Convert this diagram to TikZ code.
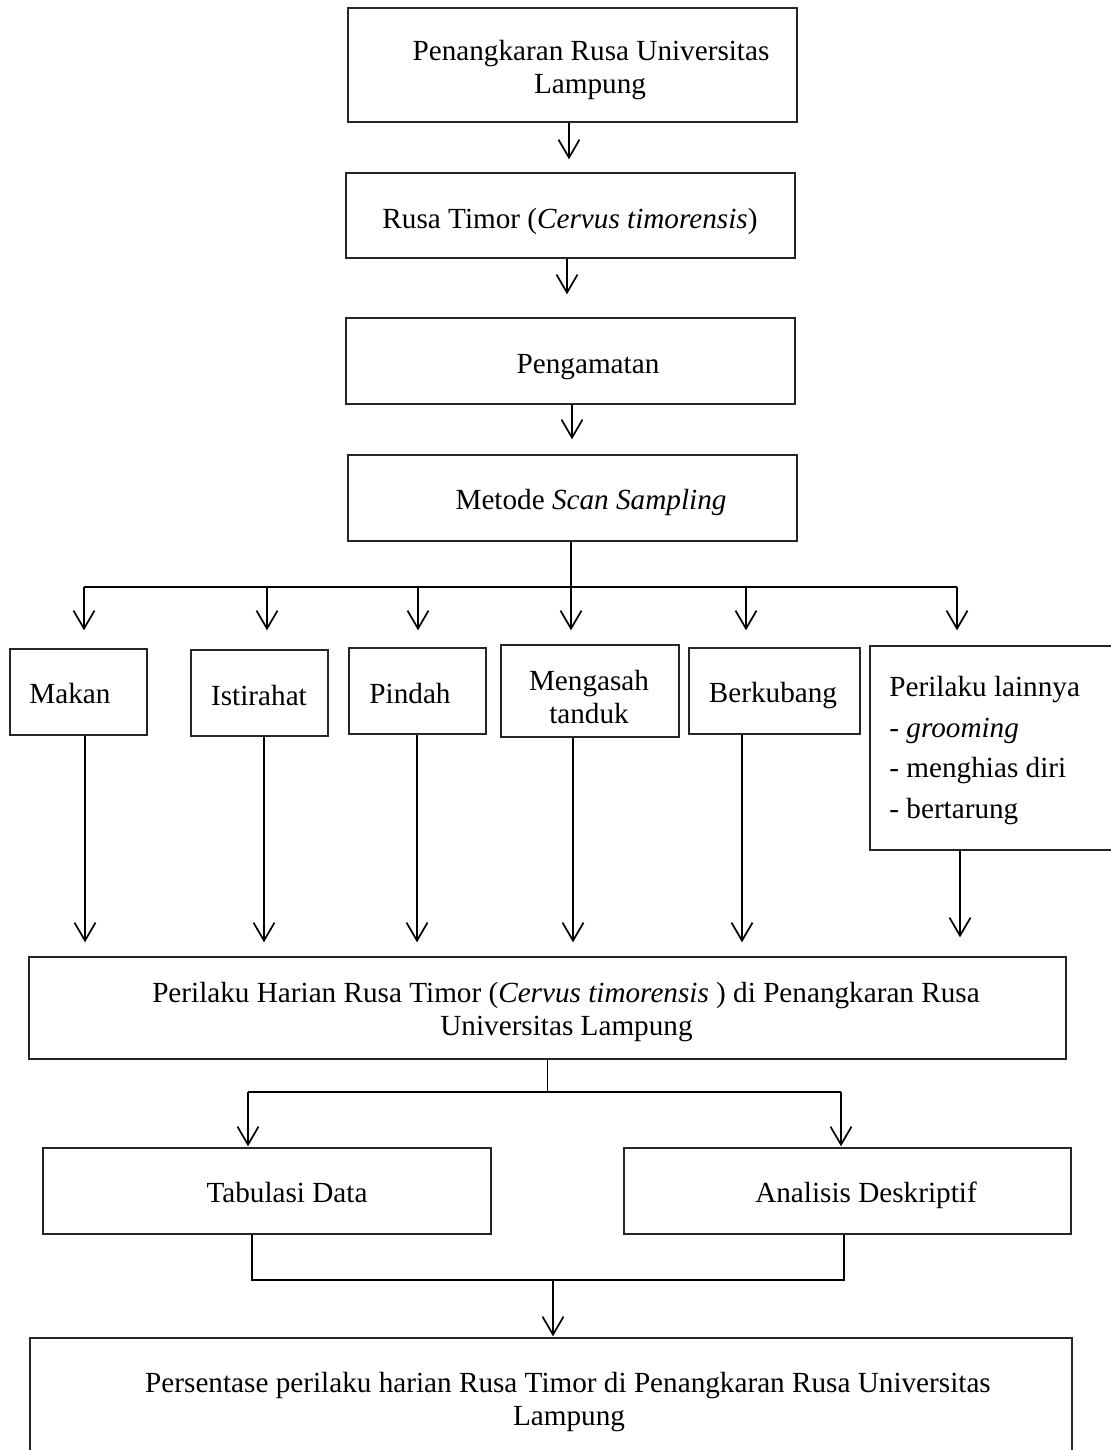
\documentclass[tikz,border=0pt]{standalone}
\usepackage{fontspec}
\setmainfont{Liberation Serif}
\usetikzlibrary{arrows.meta}
\tikzset{
  box/.style={draw=black!85, line width=0.7pt, inner sep=0pt, rectangle},
  txt/.style={inner sep=0pt, anchor=base, font=\fontsize{14.6pt}{16.5pt}\selectfont},
  txtl/.style={txt, anchor=base west},
  conn/.style={draw=black, line width=0.6pt},
  arr/.style={draw=black, line width=0.85pt, -{Straight Barb[length=9pt,width=10.5pt,line width=0.85pt]}},
}
\begin{document}
\begin{tikzpicture}[x=0.5pt,y=-0.5pt]
\clip (0,0) rectangle (1111,1450);
\fill[white] (0,0) rectangle (1111,1450);

% top chain
\node[box, minimum width=224.5pt, minimum height=57pt] (b1) at (572.5,65) {};
\node[txt] (b1a) at (591,61) {Penangkaran Rusa Universitas};
\node[txt] (b1b) at (590,94) {Lampung};

\node[box, minimum width=224.5pt, minimum height=42.5pt] (b2) at (570.5,215.5) {};
\node[txt] (b2a) at (570,228) {Rusa Timor (\textit{Cervus timorensis})};

\node[box, minimum width=224.5pt, minimum height=43pt] (b3) at (570.5,361) {};
\node[txt] (b3a) at (588,373) {Pengamatan};

\node[box, minimum width=224.5pt, minimum height=43pt] (b4) at (572.5,498) {};
\node[txt] (b4a) at (591,509) {Metode \textit{Scan Sampling}};

\draw[arr, shorten >=6.5pt] ([xshift=-1.75pt]b1.south) -- ([xshift=-1.75pt]b1.south |- b2.north);
\draw[arr, shorten >=11.5pt] ([xshift=-1.75pt]b2.south) -- ([xshift=-1.75pt]b2.south |- b3.north);
\draw[arr, shorten >=7.5pt] ([xshift=0.75pt]b3.south) -- ([xshift=0.75pt]b3.south |- b4.north);

% behaviour boxes
\node[box, minimum width=68.5pt, minimum height=43pt] (m1) at (78.5,692) {};
\node[txt] (m1a) at (70,703) {Makan};
\node[box, minimum width=68.5pt, minimum height=43pt] (m2) at (259.5,693) {};
\node[txt] (m2a) at (259,705) {Istirahat};
\node[box, minimum width=68.5pt, minimum height=43pt] (m3) at (417.5,691) {};
\node[txt] (m3a) at (410,703) {Pindah};
\node[box, minimum width=89pt, minimum height=46pt] (m4) at (590,691) {};
\node[txt] (m4a) at (589,690) {Mengasah};
\node[txt] (m4b) at (589,723) {tanduk};
\node[box, minimum width=85.5pt, minimum height=43pt] (m5) at (774.5,691) {};
\node[txt] (m5a) at (773,702) {Berkubang};
\node[box, minimum width=125pt, minimum height=102pt] (m6) at (995,748) {};
\node[txtl] (m6a) at (889,696) {Perilaku lainnya};
\node[txtl] (m6b) at (889,737) {- \textit{grooming}};
\node[txtl] (m6c) at (889,777) {- menghias diri};
\node[txtl] (m6d) at (889,818) {- bertarung};

% branch from b4
\coordinate (h1) at (84,587);
\coordinate (h2) at (267,587);
\coordinate (h3) at (418,587);
\coordinate (h4) at (571,587);
\coordinate (h5) at (746,587);
\coordinate (h6) at (957,587);
\draw[conn] (b4.south -| h4) -- (h4);
\draw[conn] (h1) -- (h6);
\draw[arr, shorten >=9pt] (h1) -- (h1 |- m1.north);
\draw[arr, shorten >=9.5pt] (h2) -- (h2 |- m2.north);
\draw[arr, shorten >=8.5pt] (h3) -- (h3 |- m3.north);
\draw[arr, shorten >=7pt] (h4) -- (h4 |- m4.north);
\draw[arr, shorten >=8.5pt] (h5) -- (h5 |- m5.north);
\draw[arr, shorten >=7.5pt] (h6) -- (h6 |- m6.north);

% result box
\node[box, minimum width=518.5pt, minimum height=51pt] (b5) at (547.5,1008) {};
\node[txt] (b5a) at (566,1002) {Perilaku Harian Rusa Timor (\textit{Cervus timorensis} ) di Penangkaran Rusa};
\node[txt] (b5b) at (566.5,1035) {Universitas Lampung};

\coordinate (v1) at (85,957);
\coordinate (v2) at (264,957);
\coordinate (v3) at (417,957);
\coordinate (v4) at (573,957);
\coordinate (v5) at (742,957);
\coordinate (v6) at (960,957);
\draw[arr, shorten >=7pt] (m1.south -| v1) -- (v1 |- b5.north);
\draw[arr, shorten >=7pt] (m2.south -| v2) -- (v2 |- b5.north);
\draw[arr, shorten >=7pt] (m3.south -| v3) -- (v3 |- b5.north);
\draw[arr, shorten >=7pt] (m4.south -| v4) -- (v4 |- b5.north);
\draw[arr, shorten >=7pt] (m5.south -| v5) -- (v5 |- b5.north);
\draw[arr, shorten >=9.5pt] (m6.south -| v6) -- (v6 |- b5.north);

% analysis
\node[box, minimum width=224pt, minimum height=43pt] (t1) at (267,1191) {};
\node[txt] (t1a) at (287,1202) {Tabulasi Data};
\node[box, minimum width=223.5pt, minimum height=43pt] (t2) at (847.5,1191) {};
\node[txt] (t2a) at (866,1202) {Analisis Deskriptif};

\coordinate (g1) at (248,1092);
\coordinate (g2) at (841,1092);
\draw[conn] (b5.south) -- (b5.south |- g1);
\draw[conn] (g1) -- (g2);
\draw[arr, shorten >=0.5pt] (g1) -- (g1 |- t1.north);
\draw[arr, shorten >=0.5pt] (g2) -- (g2 |- t2.north);

% final
\node[box, minimum width=521pt, minimum height=66pt] (b6) at (551,1404) {};
\node[txt] (b6a) at (568,1392) {Persentase perilaku harian Rusa Timor di Penangkaran Rusa Universitas};
\node[txt] (b6b) at (569,1425) {Lampung};

\coordinate (k1) at (252,1280);
\coordinate (k2) at (844,1280);
\coordinate (k3) at (553,1280);
\draw[conn] (t1.south -| k1) -- (k1) -- (k2) -- (t2.south -| k2);
\draw[arr, shorten >=0.5pt] (k3) -- (k3 |- b6.north);
\end{tikzpicture}
\end{document}
